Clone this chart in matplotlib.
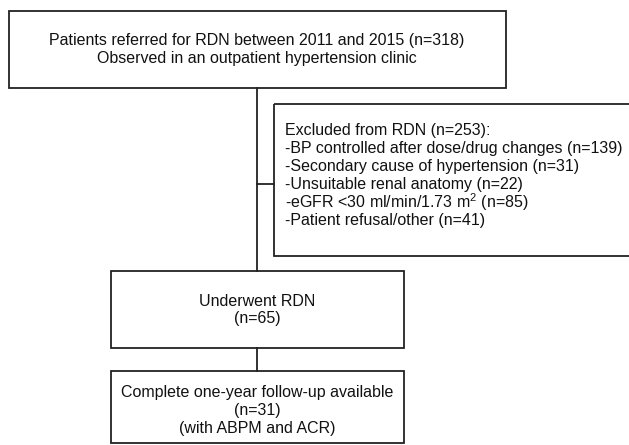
import matplotlib
matplotlib.use("Agg")
import matplotlib.pyplot as plt
from matplotlib.patches import Rectangle

plt.rcParams['font.family'] = ['Liberation Sans', 'DejaVu Sans']
plt.rcParams['mathtext.fontset'] = 'custom'
plt.rcParams['mathtext.rm'] = 'Liberation Sans'

# flowchart text
top_lines = ["Patients referred for RDN between 2011 and 2015 (n=318)",
             "Observed in an outpatient hypertension clinic"]
excluded_lines = ["Excluded from RDN (n=253):",
                  "-BP controlled after dose/drug changes (n=139)",
                  "-Secondary cause of hypertension (n=31)",
                  "-Unsuitable renal anatomy (n=22)",
                  r"-eGFR <30 ml/min/1.73 m$^\mathregular{2}$ (n=85)",
                  "-Patient refusal/other (n=41)"]
rdn_lines = ["Underwent RDN", "(n=65)"]
follow_lines = ["Complete one-year follow-up available", "(n=31)", "(with ABPM and ACR)"]

W, H = 629, 445
fig = plt.figure(figsize=(W / 100, H / 100), dpi=100)
ax = fig.add_axes([0, 0, 1, 1])
ax.set_xlim(0, W)
ax.set_ylim(H, 0)
ax.axis('off')

lw = 1.3
col = '#222222'
txt = '#111111'
fs = 11.5
step = 18


def box(x0, y0, x1, y1):
    ax.add_patch(Rectangle((x0, y0), x1 - x0, y1 - y0, fill=False,
                           edgecolor=col, linewidth=lw, clip_on=False))


def lines_center(cx, y0, lines):
    for i, t in enumerate(lines):
        ax.text(cx, y0 + i * step, t, ha='center', va='center', fontsize=fs, color=txt)


spine_x = 257

# top box
box(9, 11, 506, 88)
lines_center(spine_x, 40, top_lines)

# main vertical spine + branch to the exclusion box
ax.plot([spine_x, spine_x], [88, 271], color=col, lw=lw)
ax.plot([spine_x, 274], [184, 184], color=col, lw=lw)

# excluded box (runs off the right edge)
box(274, 104, 660, 256)
for i, t in enumerate(excluded_lines):
    ax.text(285, 130 + i * step, t, ha='left', va='center', fontsize=fs, color=txt)

# underwent RDN
box(111, 271, 404, 348)
lines_center(spine_x, 301, rdn_lines)

ax.plot([spine_x, spine_x], [348, 371], color=col, lw=lw)

# follow-up box
box(111, 371, 404, 443)
lines_center(spine_x, 392, follow_lines)

fig.savefig("out.png", dpi=100)
